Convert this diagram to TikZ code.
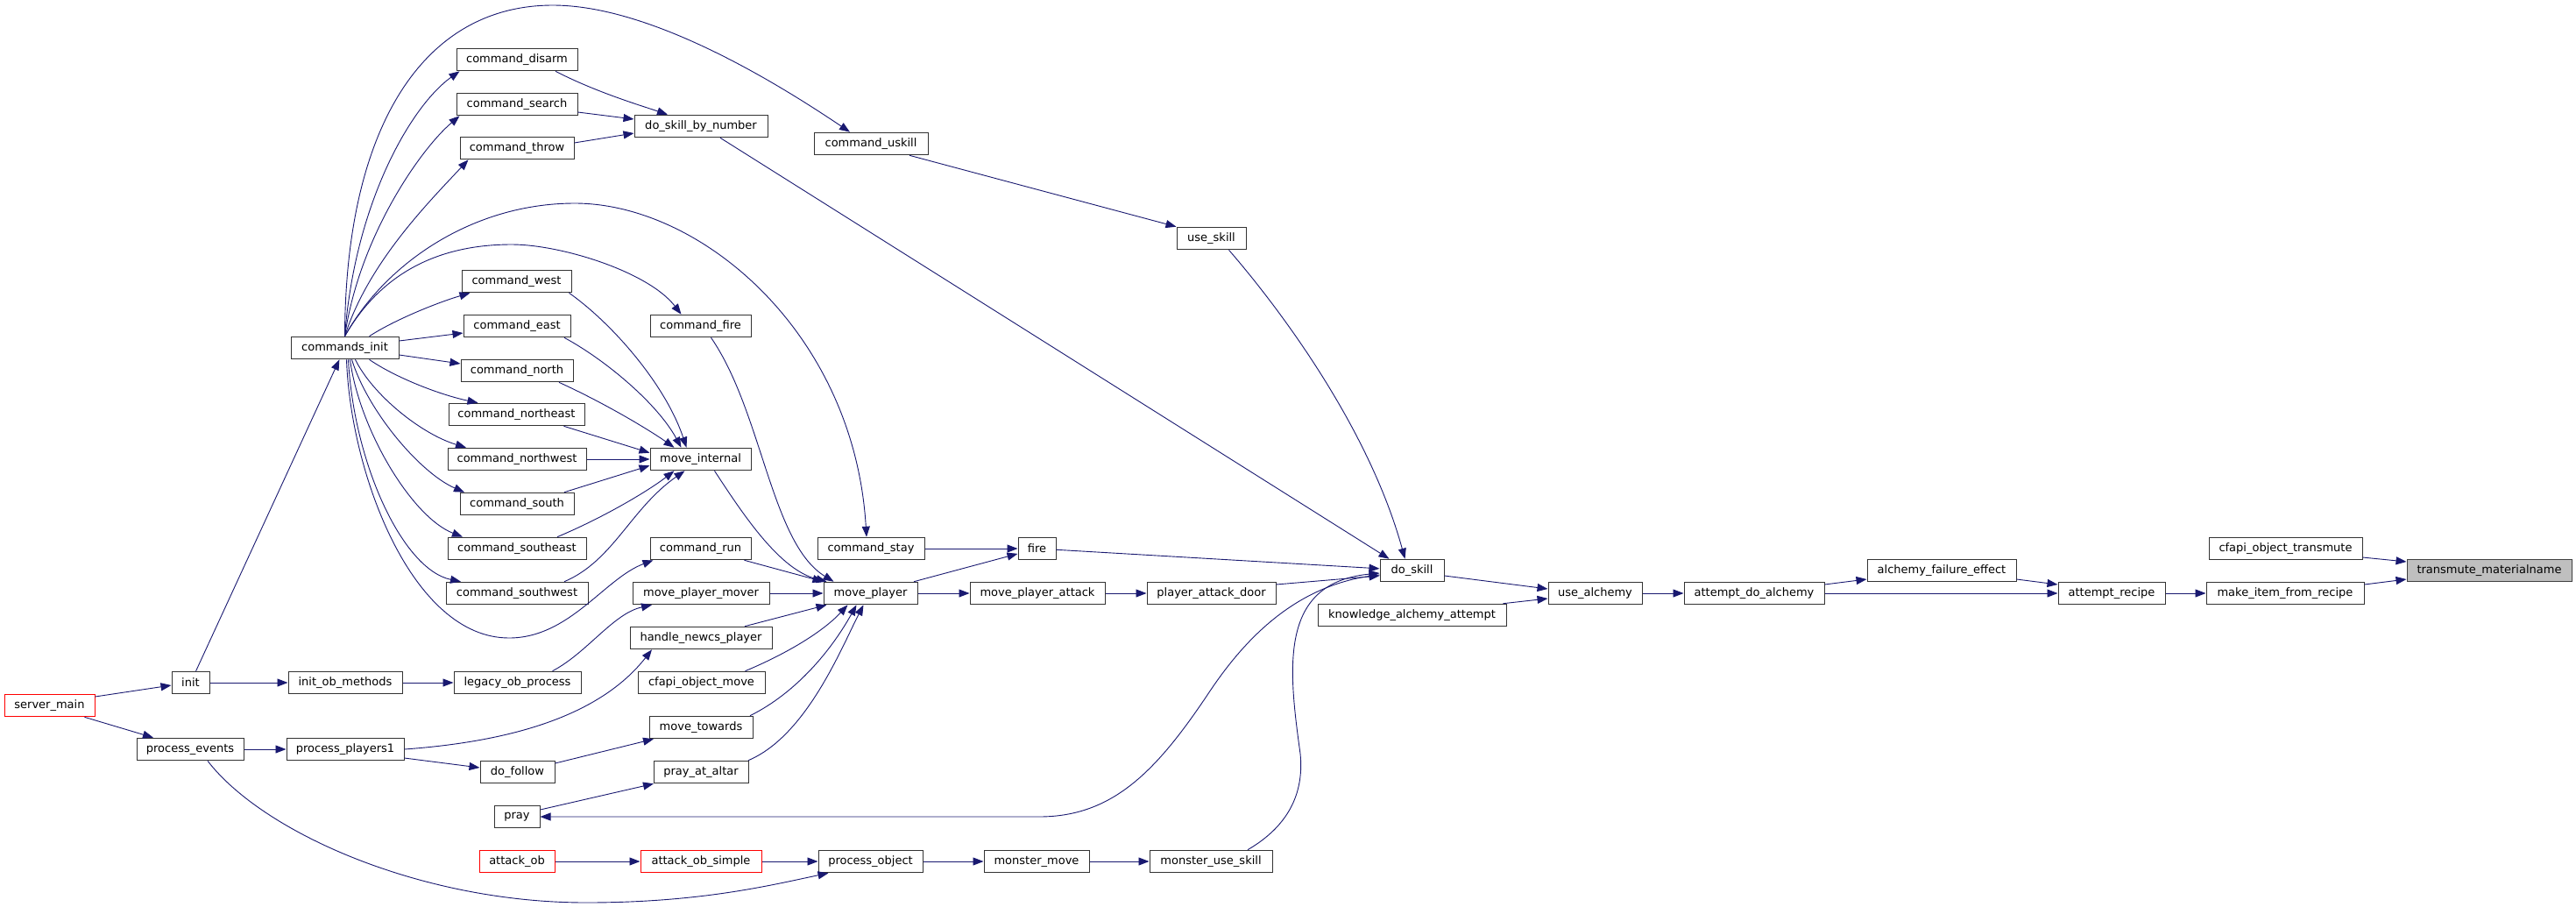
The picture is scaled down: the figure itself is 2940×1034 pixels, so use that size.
\documentclass[tikz,border=0pt]{standalone}
\usepackage{fontspec}
\setmainfont{DejaVu Sans}
\usetikzlibrary{arrows.meta}
\definecolor{edgec}{HTML}{191970}
\definecolor{rootfill}{HTML}{BFBFBF}
\tikzset{
 fn/.style={draw=black!80, line width=0.5pt, fill=white, font=\fontsize{6.5}{7.5}\selectfont, minimum height=12.8pt, inner sep=0pt, anchor=center},
 rn/.style={fn, draw=red},
 rootn/.style={fn, fill=rootfill, draw=black!75},
 ed/.style={draw=edgec, line width=0.45pt, -{Triangle[length=6pt,width=4.5pt]}}
}
\begin{document}
\begin{tikzpicture}[x=0.5pt,y=-0.5pt]
\useasboundingbox (0,0) rectangle (2940,1034);
% nodes
\node[rn, minimum width=51.5pt] (server_main) at (56.5,805) {server\_main};
\node[fn, minimum width=21.5pt] (init) at (217.5,779) {init};
\node[fn, minimum width=61pt] (process_events) at (217,855) {process\_events};
\node[fn, minimum width=61.5pt] (commands_init) at (393.5,397) {commands\_init};
\node[fn, minimum width=65pt] (init_ob_methods) at (394,779) {init\_ob\_methods};
\node[fn, minimum width=67pt] (process_players1) at (394,855) {process\_players1};
\node[fn, minimum width=69pt] (command_disarm) at (590,68) {command\_disarm};
\node[fn, minimum width=69pt] (command_search) at (590,119) {command\_search};
\node[fn, minimum width=65pt] (command_throw) at (590,169) {command\_throw};
\node[fn, minimum width=62.5pt] (command_west) at (589.5,321) {command\_west};
\node[fn, minimum width=61pt] (command_east) at (590,372) {command\_east};
\node[fn, minimum width=64pt] (command_north) at (590,423) {command\_north};
\node[fn, minimum width=77.5pt] (command_northeast) at (589.5,473) {command\_northeast};
\node[fn, minimum width=79pt] (command_northwest) at (590,524) {command\_northwest};
\node[fn, minimum width=65pt] (command_south) at (590,575) {command\_south};
\node[fn, minimum width=79pt] (command_southeast) at (590,626) {command\_southeast};
\node[fn, minimum width=81pt] (command_southwest) at (590,677) {command\_southwest};
\node[fn, minimum width=72.5pt] (legacy_ob_process) at (590.5,779) {legacy\_ob\_process};
\node[fn, minimum width=42.5pt] (do_follow) at (590.5,881) {do\_follow};
\node[fn, minimum width=26pt] (pray) at (590,932) {pray};
\node[rn, minimum width=43pt] (attack_ob) at (590,983) {attack\_ob};
\node[fn, minimum width=76pt] (do_skill_by_number) at (800,144) {do\_skill\_by\_number};
\node[fn, minimum width=57.5pt] (command_fire) at (799.5,372) {command\_fire};
\node[fn, minimum width=57.5pt] (move_internal) at (799.5,524) {move\_internal};
\node[fn, minimum width=57.5pt] (command_run) at (799.5,626) {command\_run};
\node[fn, minimum width=78pt] (move_player_mover) at (800,677) {move\_player\_mover};
\node[fn, minimum width=81pt] (handle_newcs_player) at (800,728) {handle\_newcs\_player};
\node[fn, minimum width=72.5pt] (cfapi_object_move) at (800.5,779) {cfapi\_object\_move};
\node[fn, minimum width=59pt] (move_towards) at (800,830) {move\_towards};
\node[fn, minimum width=54pt] (pray_at_altar) at (800,881) {pray\_at\_altar};
\node[rn, minimum width=69pt] (attack_ob_simple) at (800,983) {attack\_ob\_simple};
\node[fn, minimum width=65pt] (command_uskill) at (994,164) {command\_uskill};
\node[fn, minimum width=61pt] (command_stay) at (994,626) {command\_stay};
\node[fn, minimum width=53.5pt] (move_player) at (993.5,677) {move\_player};
\node[fn, minimum width=59.5pt] (process_object) at (993.5,983) {process\_object};
\node[fn, minimum width=21.5pt] (fire) at (1183.5,626) {fire};
\node[fn, minimum width=77pt] (move_player_attack) at (1184,677) {move\_player\_attack};
\node[fn, minimum width=60pt] (monster_move) at (1183,983) {monster\_move};
\node[fn, minimum width=39.5pt] (use_skill) at (1382.5,272) {use\_skill};
\node[fn, minimum width=73.5pt] (player_attack_door) at (1382.5,677) {player\_attack\_door};
\node[fn, minimum width=70pt] (monster_use_skill) at (1382,983) {monster\_use\_skill};
\node[fn, minimum width=36.5pt] (do_skill) at (1611.5,651) {do\_skill};
\node[fn, minimum width=107.5pt] (knowledge_alchemy_attempt) at (1611.5,702) {knowledge\_alchemy\_attempt};
\node[fn, minimum width=53.5pt] (use_alchemy) at (1820.5,677) {use\_alchemy};
\node[fn, minimum width=80pt] (attempt_do_alchemy) at (2002,677) {attempt\_do\_alchemy};
\node[fn, minimum width=85pt] (alchemy_failure_effect) at (2216,651) {alchemy\_failure\_effect};
\node[fn, minimum width=61pt] (attempt_recipe) at (2410,677) {attempt\_recipe};
\node[fn, minimum width=87.5pt] (cfapi_object_transmute) at (2608.5,626) {cfapi\_object\_transmute};
\node[fn, minimum width=90pt] (make_item_from_recipe) at (2608,677) {make\_item\_from\_recipe};
\node[rootn, minimum width=94pt] (transmute_materialname) at (2841,651) {transmute\_materialname};
% edges: left part
\draw[ed] ([yshift=5pt]server_main.east) -- ([yshift=-1.5pt]init.west);
\draw[ed] ([xshift=20pt]server_main.south) -- ([xshift=-21pt]process_events.north);
\draw[ed] (init) -- (commands_init);
\draw[ed] (init) -- (init_ob_methods);
\draw[ed] (init_ob_methods) -- (legacy_ob_process);
\draw[ed] (process_events) -- (process_players1);
\draw[ed] ([xshift=10pt]process_events.south) .. controls (300,950) and (480,1030) .. (669,1030) .. controls (800,1030) and (880,1010) .. ([xshift=-24pt]process_object.south);
\draw[ed] ([xshift=20pt]legacy_ob_process.north) .. controls (670,745) and (700,700) .. ([xshift=-28pt]move_player_mover.south);
\draw[ed] (process_players1.east) .. controls (600,845) and (690,810) .. ([xshift=-28pt]handle_newcs_player.south);
\draw[ed] ([yshift=-5pt]process_players1.east) -- ([yshift=2.5pt]do_follow.west);
\draw[ed] ([yshift=5pt]do_follow.east) -- ([xshift=-27pt]move_towards.south);
\draw[ed] ([yshift=4pt]pray.east) -- ([xshift=-27pt]pray_at_altar.south);
\draw[ed] (attack_ob) -- (attack_ob_simple);
\draw[ed] (attack_ob_simple) -- (process_object);
\draw[ed] (process_object) -- (monster_move);
\draw[ed] (monster_move) -- (monster_use_skill);
% commands_init fan
\draw[ed] (commands_init.north) .. controls (394,150) and (480,6) .. (631,6) .. controls (740,6) and (880,90) .. ([xshift=-12pt]command_uskill.north);
\draw[ed] (commands_init.north) .. controls (405,230) and (470,120) .. ([xshift=2pt]command_disarm.south west);
\draw[ed] (commands_init.north) .. controls (410,270) and (480,170) .. ([xshift=2pt]command_search.south west);
\draw[ed] (commands_init.north) .. controls (420,300) and (490,230) .. ([xshift=5pt]command_throw.south west);
\draw[ed] (commands_init.north) .. controls (430,320) and (490,279) .. (584,279) .. controls (640,279) and (740,310) .. ([xshift=-11pt]command_fire.north);
\draw[ed] (commands_init.north) .. controls (440,300) and (540,232) .. (656,232) .. controls (800,232) and (975,380) .. ([xshift=-2.5pt]command_stay.north);
\draw[ed] ([xshift=14pt]commands_init.north) .. controls (450,365) and (500,345) .. ([xshift=5pt]command_west.south west);
\draw[ed] ([yshift=4pt]commands_init.east) -- ([yshift=-4pt]command_east.west);
\draw[ed] ([yshift=-4pt]commands_init.east) -- ([yshift=4pt]command_north.west);
\draw[ed] ([xshift=14pt]commands_init.south) .. controls (450,430) and (500,450) .. ([xshift=-22pt]command_northeast.north);
\draw[ed] ([xshift=6pt]commands_init.south) .. controls (425,450) and (480,495) .. ([xshift=-29pt]command_northwest.north);
\draw[ed] ([xshift=4pt]commands_init.south) .. controls (420,470) and (480,540) .. ([xshift=-30pt]command_south.north);
\draw[ed] ([xshift=3pt]commands_init.south) .. controls (410,490) and (470,590) .. ([xshift=-31pt]command_southeast.north);
\draw[ed] ([xshift=2pt]commands_init.south) .. controls (404,530) and (460,650) .. ([xshift=-32pt]command_southwest.north);
\draw[ed] ([xshift=1pt]commands_init.south) .. controls (400,540) and (470,728) .. (581,728) .. controls (650,728) and (690,660) .. ([xshift=-27pt]command_run.south);
% skills
\draw[ed] ([xshift=22pt]command_disarm.south) .. controls (680,105) and (730,120) .. ([xshift=-19pt]do_skill_by_number.north);
\draw[ed] ([yshift=-4.5pt]command_search.east) -- ([yshift=4pt]do_skill_by_number.west);
\draw[ed] ([yshift=3pt]command_throw.east) -- ([yshift=-4pt]do_skill_by_number.west);
\draw[ed] ([xshift=11pt]do_skill_by_number.south) -- ([xshift=-13pt]do_skill.north);
\draw[ed] ([xshift=22pt]command_uskill.south) -- (use_skill.north west);
\draw[ed] ([xshift=10pt]use_skill.south) .. controls (1450,340) and (1560,480) .. ([xshift=-4pt]do_skill.north);
% move_internal
\draw[ed] ([xshift=30pt]command_west.south) .. controls (700,370) and (760,440) .. ([xshift=-8pt]move_internal.north);
\draw[ed] ([xshift=27pt]command_east.south) .. controls (690,410) and (750,460) .. ([xshift=-11pt]move_internal.north);
\draw[ed] ([xshift=24pt]command_north.south) .. controls (690,460) and (740,490) .. ([xshift=-15pt]move_internal.north);
\draw[ed] ([xshift=27pt]command_northeast.south) -- ([yshift=-3pt]move_internal.north west);
\draw[ed] (command_northwest) -- (move_internal);
\draw[ed] ([xshift=27pt]command_south.north) -- ([yshift=3pt]move_internal.south west);
\draw[ed] ([xshift=23pt]command_southeast.north) .. controls (690,590) and (740,560) .. ([xshift=-15pt]move_internal.south);
\draw[ed] ([xshift=27pt]command_southwest.north) .. controls (700,640) and (720,580) .. ([xshift=-9pt]move_internal.south);
% move_player
\draw[ed] ([xshift=8pt]move_internal.south) .. controls (850,590) and (890,650) .. ([xshift=2pt]move_player.north west);
\draw[ed] ([xshift=6pt]command_fire.south) .. controls (870,470) and (880,620) .. ([xshift=6pt]move_player.north west);
\draw[ed] ([xshift=25pt]command_run.south) -- (move_player.north west);
\draw[ed] (move_player_mover) -- (move_player);
\draw[ed] ([xshift=25pt]handle_newcs_player.north) -- ([xshift=2pt]move_player.south west);
\draw[ed] ([xshift=25pt]cfapi_object_move.north) .. controls (900,745) and (940,720) .. ([xshift=-13pt]move_player.south);
\draw[ed] ([xshift=28pt]move_towards.north) .. controls (910,790) and (950,740) .. ([xshift=-8pt]move_player.south);
\draw[ed] ([xshift=27pt]pray_at_altar.north) .. controls (920,840) and (960,740) .. ([xshift=-4pt]move_player.south);
\draw[ed] (command_stay) -- (fire);
\draw[ed] (move_player) -- (fire);
\draw[ed] (move_player) -- (move_player_attack);
\draw[ed] (move_player_attack) -- (player_attack_door);
% do_skill
\draw[ed] (fire) -- (do_skill);
\draw[ed] ([yshift=5pt]player_attack_door.east) -- ([yshift=-3pt]do_skill.west);
\draw[ed] ([xshift=21pt]monster_use_skill.north) .. controls (1475,940) and (1488,900) .. (1484,860) .. controls (1470,760) and (1460,665) .. ([yshift=-1.5pt]do_skill.west);
\draw[ed] ([yshift=-2.5pt]do_skill.west) .. controls (1480,665) and (1420,730) .. (1380,790) .. controls (1320,880) and (1270,932) .. (1186,932) -- (pray.east);
% right part
\draw[ed] ([yshift=-3pt]do_skill.east) -- ([yshift=2.5pt]use_alchemy.west);
\draw[ed] ([xshift=-2pt]knowledge_alchemy_attempt.north east) -- ([yshift=-3pt]use_alchemy.west);
\draw[ed] (use_alchemy) -- (attempt_do_alchemy);
\draw[ed] ([yshift=5pt]attempt_do_alchemy.east) -- ([yshift=-5pt]alchemy_failure_effect.west);
\draw[ed] (attempt_do_alchemy) -- (attempt_recipe);
\draw[ed] ([yshift=-5pt]alchemy_failure_effect.east) -- ([yshift=5pt]attempt_recipe.west);
\draw[ed] (attempt_recipe) -- (make_item_from_recipe);
\draw[ed] ([yshift=-5pt]cfapi_object_transmute.east) -- ([yshift=5pt]transmute_materialname.west);
\draw[ed] ([yshift=5pt]make_item_from_recipe.east) -- ([yshift=-5pt]transmute_materialname.west);
\end{tikzpicture}
\end{document}
